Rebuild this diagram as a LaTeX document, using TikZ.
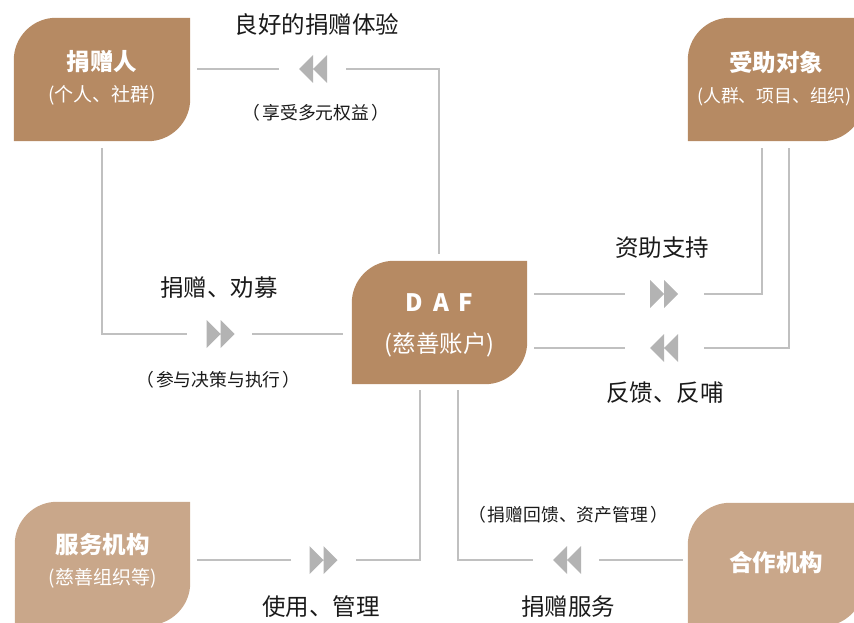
\documentclass[tikz,border=0pt]{standalone}
\usepackage{fontspec}
\setmainfont{Noto Sans CJK SC}
\definecolor{brownA}{HTML}{B68A63}
\definecolor{brownB}{HTML}{C9A78A}
\definecolor{lineg}{HTML}{C0C0C0}
\definecolor{arrg}{HTML}{B3B3B3}
\definecolor{txt}{HTML}{1A1A1A}
\newcommand\leafshape[2]{\fill[#2] (#1.south west) -- ([yshift=-42pt]#1.north west) .. controls ([yshift=-19pt]#1.north west) and ([xshift=19pt]#1.north west) .. ([xshift=42pt]#1.north west) -- (#1.north east) -- ([yshift=42pt]#1.south east) .. controls ([yshift=19pt]#1.south east) and ([xshift=-19pt]#1.south east) .. ([xshift=-42pt]#1.south east) -- cycle;}
\newcommand\lp{（\hspace{2pt}}
\newcommand\rp{\hspace{2pt}）}
\begin{document}
\begin{tikzpicture}[x=1pt,y=-1pt,
  conn/.style={draw=lineg,line width=1.8pt},
  box/.style={minimum width=176pt,minimum height=123pt,inner sep=0pt},
  ttl/.style={text=white,font=\fontsize{23.5}{27}\selectfont\bfseries,inner sep=0pt},
  stl/.style={text=white,font=\fontsize{18.5}{22}\selectfont,inner sep=0pt},
  lbl/.style={text=txt,font=\fontsize{23.5}{27}\selectfont,inner sep=0pt},
  sub/.style={text=txt,font=\fontsize{17.8}{21}\selectfont,inner sep=0pt},
  rarr/.pic={\fill[arrg] (-14,-14) -- (-14,14) -- (0,0) -- cycle (0,-14) -- (0,14) -- (14,0) -- cycle;},
  larr/.pic={\fill[arrg] (14,-14) -- (14,14) -- (0,0) -- cycle (0,-14) -- (0,14) -- (-14,0) -- cycle;},
]
\useasboundingbox (0,0) rectangle (854,623);
\clip (0,0) rectangle (854,623);

% boxes
\node[box] (donor) at (102,79.5) {};
\node[box] (recip) at (776,79.5) {};
\node[box,minimum width=175pt] (daf) at (439.5,322.5) {};
\node[box,minimum width=175pt] (serv) at (102.5,563.5) {};
\node[box] (part) at (776,564.5) {};
\leafshape{donor}{brownA}
\leafshape{recip}{brownA}
\leafshape{daf}{brownA}
\leafshape{serv}{brownB}
\leafshape{part}{brownB}

\node[ttl] (donorT) at ([yshift=17.5pt]donor.center) {捐赠人};
\node[stl,font=\fontsize{19}{22}\selectfont] (donorS) at ([yshift=-15.5pt]donor.center) {(个人、社群)};
\node[ttl] (recipT) at ([yshift=16.5pt]recip.center) {受助对象};
\node[stl,font=\fontsize{17.8}{21}\selectfont] (recipS) at ([xshift=-1.5pt,yshift=-17.5pt]recip.center) {(人群、项目、组织)};
\node[ttl,font=\fontsize{24}{28}\selectfont\bfseries] (dafT) at ([yshift=19.5pt]daf.center) {D\hspace{10pt}A\hspace{10pt}F};
\node[stl,font=\fontsize{23.5}{27}\selectfont] (dafS) at ([yshift=-22pt]daf.center) {(慈善账户)};
\node[ttl] (servT) at ([yshift=18.5pt]serv.center) {服务机构};
\node[stl,font=\fontsize{19}{22}\selectfont] (servS) at ([yshift=-14.5pt]serv.center) {(慈善组织等)};
\node[ttl] (partT) at ([yshift=1.5pt]part.center) {合作机构};

% arrow positions
\coordinate (a1) at (313,69);
\coordinate (a2) at (220.5,334);
\coordinate (a3) at (664,294);
\coordinate (a4) at (664,348);
\coordinate (a5) at (323.5,560);
\coordinate (a6) at (567,560);
\pic at (a1) {larr};
\pic at (a2) {rarr};
\pic at (a3) {rarr};
\pic at (a4) {larr};
\pic at (a5) {rarr};
\pic at (a6) {larr};

% connector end points
\coordinate (p1a) at (197,69);   \coordinate (p1b) at (279,69);
\coordinate (p1c) at (346,69);   \coordinate (p1d) at (439,69);  \coordinate (p1e) at (439,254);
\coordinate (p2a) at (102,148);  \coordinate (p2b) at (102,334); \coordinate (p2c) at (187,334);
\coordinate (p2d) at (252,334);  \coordinate (p2e) at (343,334);
\coordinate (p3a) at (534,294);  \coordinate (p3b) at (625,294);
\coordinate (p3c) at (704,294);  \coordinate (p3d) at (762,294); \coordinate (p3e) at (762,148);
\coordinate (p4a) at (534,348);  \coordinate (p4b) at (625,348);
\coordinate (p4c) at (704,348);  \coordinate (p4d) at (789,348); \coordinate (p4e) at (789,148);
\coordinate (p5a) at (420,390);  \coordinate (p5b) at (420,560); \coordinate (p5c) at (356,560);
\coordinate (p5d) at (291,560);  \coordinate (p5e) at (197,560);
\coordinate (p6a) at (458,390);  \coordinate (p6b) at (458,560); \coordinate (p6c) at (533,560);
\coordinate (p6d) at (599,560);  \coordinate (p6e) at (683,560);

\draw[conn] (p1a) -- (p1b);
\draw[conn] (p1c) -- (p1d) -- (p1e);
\draw[conn] (p2a) -- (p2b) -- (p2c);
\draw[conn] (p2d) -- (p2e);
\draw[conn] (p3a) -- (p3b);
\draw[conn] (p3c) -- (p3d) -- (p3e);
\draw[conn] (p4a) -- (p4b);
\draw[conn] (p4c) -- (p4d) -- (p4e);
\draw[conn] (p5a) -- (p5b) -- (p5c);
\draw[conn] (p5d) -- (p5e);
\draw[conn] (p6a) -- (p6b) -- (p6c);
\draw[conn] (p6d) -- (p6e);

% labels
\node[lbl] (l1) at (317,25) {良好的捐赠体验};
\node[sub] (l1s) at (316,113) {\lp 享受多元权益\rp};
\node[lbl] (l2) at (219,288) {捐赠、劝募};
\node[sub] (l2s) at (218.5,380) {\lp 参与决策与执行\rp};
\node[lbl] (l3) at (662,248) {资助支持};
\node[lbl] (l4) at (665,393) {反馈、反哺};
\node[lbl] (l5) at (321,607) {使用、管理};
\node[sub] (l6s) at (568,515) {\lp 捐赠回馈、资产管理\rp};
\node[lbl] (l6) at (568,607) {捐赠服务};
\end{tikzpicture}
\end{document}
